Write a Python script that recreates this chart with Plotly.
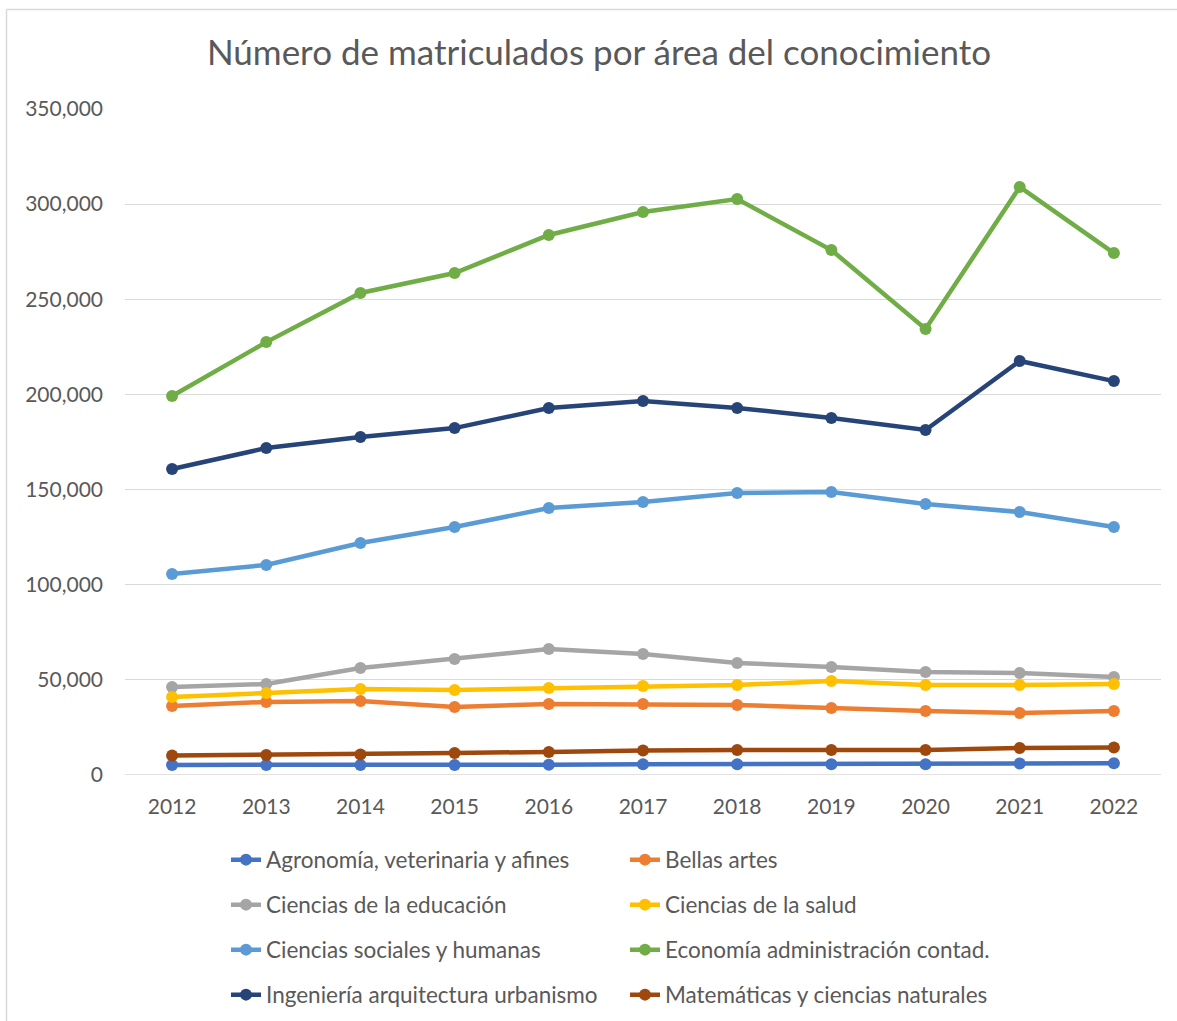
import plotly.graph_objects as go

anios = [2012, 2013, 2014, 2015, 2016, 2017, 2018, 2019, 2020, 2021, 2022]

agronomia = [5300, 5200, 5200, 5200, 5400, 5600, 5600, 5600, 5600, 6000, 6200]
bellas_artes = [36300, 38400, 38900, 35700, 37300, 37300, 36800, 35200, 33600, 32600, 33600]
educacion = [46200, 47800, 56200, 61000, 66200, 63600, 58900, 56800, 54100, 53600, 51500]
salud = [41000, 43100, 45200, 44700, 45700, 46800, 47300, 49400, 47300, 47300, 47800]
sociales = [105600, 110400, 121900, 130300, 140300, 143500, 148200, 148700, 142400, 138200, 130300]
economia = [199200, 227500, 253300, 263800, 283800, 295900, 302700, 275900, 234400, 309000, 274300]
ingenieria = [160800, 171800, 177600, 182300, 192900, 196500, 192900, 187600, 181300, 217600, 207000]
matematicas = [10200, 10500, 10800, 11600, 12100, 12900, 13100, 13100, 13100, 14200, 14500]

series = [
    ("Agronomía, veterinaria y afines", agronomia, "#4472C4", "legend"),
    ("Bellas artes", bellas_artes, "#ED7D31", "legend"),
    ("Ciencias de la educación", educacion, "#A5A5A5", "legend2"),
    ("Ciencias de la salud", salud, "#FFC000", "legend2"),
    ("Ciencias sociales y humanas", sociales, "#5B9BD5", "legend3"),
    ("Economía administración contad.", economia, "#70AD47", "legend3"),
    ("Ingeniería arquitectura urbanismo", ingenieria, "#264478", "legend4"),
    ("Matemáticas y ciencias naturales", matematicas, "#9E480E", "legend4"),
]

W, H = 1177, 1021
L, R, T, B = 125, 1161, 109, 775
gris = "#595959"
fuente = "Lato, 'Open Sans', sans-serif"

fig = go.Figure()
for nombre, valores, color, leyenda in series:
    fig.add_trace(go.Scatter(
        x=anios, y=valores, name=nombre, mode="lines+markers",
        line=dict(color=color, width=4.5),
        marker=dict(color=color, size=12),
        legend=leyenda,
    ))


def leyenda_fila(py):
    return dict(
        orientation="h", x=(226 - L) / (R - L), xanchor="left",
        y=(B - py) / (B - T), yanchor="middle",
        entrywidth=354, entrywidthmode="pixels",
        font=dict(size=22.5, color=gris, family=fuente),
        bgcolor="rgba(0,0,0,0)", itemclick=False,
    )


fig.update_layout(
    width=W, height=H,
    margin=dict(l=L, r=W - R, t=T, b=H - B, autoexpand=False),
    paper_bgcolor="white", plot_bgcolor="white",
    font=dict(family=fuente, color=gris),
    title=dict(
        text="Número de matriculados por área del conocimiento",
        x=599 / W, xanchor="center", xref="container",
        y=1 - 53 / H, yanchor="middle", yref="container",
        font=dict(size=35, color=gris, family=fuente),
    ),
    xaxis=dict(
        range=[2011.5, 2022.5], tickmode="array", tickvals=anios,
        showgrid=False, zeroline=False, showline=False, ticks="",
        tickfont=dict(size=21, color=gris), ticklabelstandoff=17,
    ),
    yaxis=dict(
        range=[0, 350000], dtick=50000, tickformat=",",
        showgrid=True, gridcolor="#D9D9D9", gridwidth=1.3,
        zeroline=False, showline=False, ticks="",
        tickfont=dict(size=21, color=gris), ticklabelstandoff=21,
    ),
    legend=leyenda_fila(860),
    legend2=leyenda_fila(905),
    legend3=leyenda_fila(950),
    legend4=leyenda_fila(995),
    shapes=[
        dict(type="line", xref="paper", yref="paper",
             x0=(6.5 - L) / (R - L), x1=(W - L) / (R - L),
             y0=(B - 9.5) / (B - T), y1=(B - 9.5) / (B - T),
             line=dict(color="#D9D9D9", width=1.5)),
        dict(type="line", xref="paper", yref="paper",
             x0=(6.5 - L) / (R - L), x1=(6.5 - L) / (R - L),
             y0=(B - 9.5) / (B - T), y1=(B - H) / (B - T),
             line=dict(color="#D9D9D9", width=1.5)),
        dict(type="line", xref="paper", yref="y",
             x0=0, x1=1, y0=0, y1=0, layer="below",
             line=dict(color="#D9D9D9", width=1.3)),
    ],
)

fig.write_html("out.html", config={"displayModeBar": False},
               post_script="document.body.style.margin='0';")
